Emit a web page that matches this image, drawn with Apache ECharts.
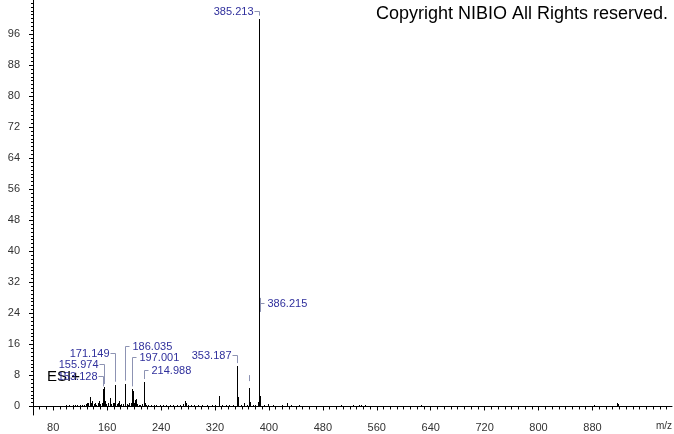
<!DOCTYPE html>
<html>
<head>
<meta charset="utf-8">
<script src="https://cdn.jsdelivr.net/npm/echarts@6/dist/echarts.min.js"></script>
<style>
  html, body { margin: 0; padding: 0; background: #fff; }
  #chart { width: 674px; height: 434px; }
</style>
</head>
<body>
<div id="chart"></div>
<script>
// peaks (m/z, relative intensity)
const mzValues = [98.5, 101, 104, 107, 110, 113, 116, 119, 122, 125, 128, 130.5, 132, 134.1, 136, 138, 140.2, 142, 144, 146, 148.1, 150, 152, 153.128, 154.1, 155.974, 157, 159, 161, 164, 166, 168, 169.5, 171.149, 172.2, 174, 176, 177.6, 179, 181, 183, 186.035, 187.1, 189, 191, 193, 195, 197.001, 198.9, 200, 201.1, 203, 205, 207, 209, 212, 214.988, 216, 218, 221, 225, 229, 233, 238, 243, 248, 253, 258, 263, 268, 272, 275.2, 277, 280, 284, 289, 295, 301, 308, 315, 320, 325.3, 330, 336, 341, 347, 353.187, 354.19, 358, 363.5, 367, 370.2, 371.2, 376, 380, 383.2, 384.2, 385.213, 386.215, 387.2, 392, 399, 405.5, 412, 419, 426.7, 433, 444, 455, 470, 490, 507, 524, 534, 537, 543, 575, 625, 690, 760, 830, 883, 916, 918]
const intensities = [0.3, 0.2, 0.3, 0.2, 0.4, 0.3, 0.5, 0.3, 0.4, 0.3, 0.6, 0.8, 1.0, 2.5, 0.9, 1.4, 0.6, 0.8, 0.5, 1.0, 1.5, 0.7, 1.0, 4.4, 1.2, 5.0, 1.3, 0.6, 0.8, 2.2, 0.7, 0.9, 1.0, 5.6, 1.1, 0.6, 0.8, 1.5, 0.5, 0.7, 0.6, 5.9, 1.8, 0.6, 0.5, 0.8, 1.0, 4.4, 3.9, 1.0, 1.6, 2.0, 0.6, 0.4, 0.5, 0.7, 6.3, 0.9, 0.4, 0.3, 0.4, 0.3, 0.4, 0.3, 0.5, 0.3, 0.4, 0.3, 0.5, 0.4, 0.6, 1.5, 0.9, 0.5, 0.3, 0.4, 0.3, 0.4, 0.3, 0.3, 0.4, 2.6, 0.3, 0.3, 0.4, 0.3, 10.4, 2.5, 0.4, 1.0, 0.4, 4.8, 1.2, 0.3, 0.4, 1.2, 1.0, 100, 2.6, 0.8, 0.3, 0.6, 0.5, 0.2, 0.3, 1.0, 0.3, 0.4, 0.2, 0.2, 0.2, 0.4, 0.4, 0.4, 0.4, 0.5, 0.2, 0.5, 0.2, 0.2, 0.2, 0.5, 1.0, 0.6]
const scanRange = [98, 998]

const labelMz = [385.213, 386.215, 353.187, 171.149, 155.974, 153.128, 186.035, 197.001, 214.988, 370.2]
const labelText = ['385.213', '386.215', '353.187', '171.149', '155.974', '153.128', '186.035', '197.001', '214.988', '']

const xTickLabels = [80, 160, 240, 320, 400, 480, 560, 640, 720, 800, 880]
const yTickLabels = [0, 8, 16, 24, 32, 40, 48, 56, 64, 72, 80, 88, 96]

// label placement (level in intensity units, side of the text)
const labelLevel = [102, 26.7, 13.3, 13.9, 10.9, 7.9, 15.7, 12.8, 9.4, 7.7]
const labelSide = ['left', 'right', 'left', 'left', 'left', 'left', 'right', 'right', 'right', 'none']
const labelStem = [0, 14, 0, 0, 0, 0, 0, 0, 0, 6]

const xMinor = []
for (let v = 50; v <= 990; v += 10) xMinor.push(v)
const yMinor = []
for (let v = 0; v <= 104; v += 1) yMinor.push(v)

const chart = echarts.init(document.getElementById('chart'))

const axisText = { color: '#333', fontSize: 11, fontFamily: 'Liberation Sans, Arial' }

chart.setOption({
  backgroundColor: '#fff',
  animation: false,
  grid: { left: 33, right: 2, top: 0, bottom: 19 },
  xAxis: [
    {
      type: 'value', min: 50, max: 998, position: 'bottom',
      axisLine: { lineStyle: { color: '#000' } },
      axisTick: { customValues: xTickLabels, length: 4, lineStyle: { color: '#000' } },
      axisLabel: { customValues: xTickLabels, margin: 7, ...axisText },
      splitLine: { show: false },
    },
    {
      type: 'value', min: 50, max: 998, position: 'bottom',
      axisLine: { show: false },
      axisTick: { customValues: xMinor, length: 3, lineStyle: { color: '#000' } },
      axisLabel: { show: false },
      splitLine: { show: false },
    },
  ],
  yAxis: [
    {
      type: 'value', min: -2.2, max: 104.8, position: 'left',
      axisLine: { show: true, lineStyle: { color: '#000' } },
      axisTick: { customValues: yTickLabels, length: 4, lineStyle: { color: '#000' } },
      axisLabel: { customValues: yTickLabels, margin: 13, ...axisText },
      splitLine: { show: false },
    },
    {
      type: 'value', min: -2.2, max: 104.8, position: 'left',
      axisLine: { show: false },
      axisTick: { customValues: yMinor, length: 2, lineStyle: { color: '#000' } },
      axisLabel: { show: false },
      splitLine: { show: false },
    },
  ],
  series: [
    {
      // peak annotations with bracket leaders
      type: 'custom',
      z: 1,
      data: labelMz.map((m, i) => [m, intensities[mzValues.indexOf(m)], i]),
      renderItem(params, api) {
        const i = api.value(2)
        const top = api.coord([api.value(0), api.value(1)])
        const lab = api.coord([api.value(0), labelLevel[i]])
        const x = Math.round(top[0]) + 0.5
        const y = Math.round(lab[1]) + 0.5
        const side = labelSide[i]
        const children = []
        const gray = '#8d93b3'
        if (labelStem[i] > 0) {
          const s = labelStem[i]
          children.push({ type: 'line', shape: { x1: x, y1: y - s * 0.4, x2: x, y2: y + s * 0.6 }, style: { stroke: gray, lineWidth: 1 } })
        }
        else {
          children.push({ type: 'line', shape: { x1: x, y1: y, x2: x, y2: top[1] - 3 }, style: { stroke: gray, lineWidth: 1 } })
        }
        if (side === 'left') {
          children.push({ type: 'line', shape: { x1: x - 5, y1: y, x2: x, y2: y }, style: { stroke: gray, lineWidth: 1 } })
          children.push({ type: 'text', x: x - 6, y, style: { text: labelText[i], fill: '#2f2f9c', font: '11px "Liberation Sans", Arial', align: 'right', verticalAlign: 'middle' } })
        }
        else if (side === 'right') {
          children.push({ type: 'line', shape: { x1: x, y1: y, x2: x + 4, y2: y }, style: { stroke: gray, lineWidth: 1 } })
          children.push({ type: 'text', x: x + 7, y, style: { text: labelText[i], fill: '#2f2f9c', font: '11px "Liberation Sans", Arial', align: 'left', verticalAlign: 'middle' } })
        }
        return { type: 'group', children }
      },
    },
    {
      // stick spectrum
      type: 'custom',
      z: 2,
      data: mzValues.map((m, i) => [m, intensities[i]]),
      renderItem(params, api) {
        const base = api.coord([api.value(0), 0])
        const top = api.coord([api.value(0), api.value(1)])
        const x = Math.round(base[0]) + 0.5
        return {
          type: 'line',
          shape: { x1: x, y1: Math.round(base[1]) + 0.5, x2: x, y2: Math.round(top[1]) },
          style: { stroke: '#000', lineWidth: 1 },
        }
      },
    },
    {
      // baseline of the scan
      type: 'custom',
      z: 2,
      data: [[scanRange[0], scanRange[1]]],
      renderItem(params, api) {
        const a = api.coord([api.value(0), 0])
        const b = api.coord([api.value(1), 0])
        const y = Math.round(a[1]) + 0.5
        return { type: 'line', shape: { x1: a[0], y1: y, x2: b[0], y2: y }, style: { stroke: '#000', lineWidth: 1 } }
      },
    },
  ],
  graphic: [
    { type: 'text', right: 6, top: 5, style: { text: 'Copyright NIBIO All Rights reserved.', fill: '#000', font: '18px "Liberation Sans", Arial' } },
    { type: 'text', left: 47, top: 369, style: { text: 'ESI+', fill: '#000', font: '15px "Liberation Sans", Arial' } },
    { type: 'text', right: 2, top: 421, style: { text: 'm/z', fill: '#333', font: '10px "Liberation Sans", Arial' } },
  ],
})
</script>
</body>
</html>
